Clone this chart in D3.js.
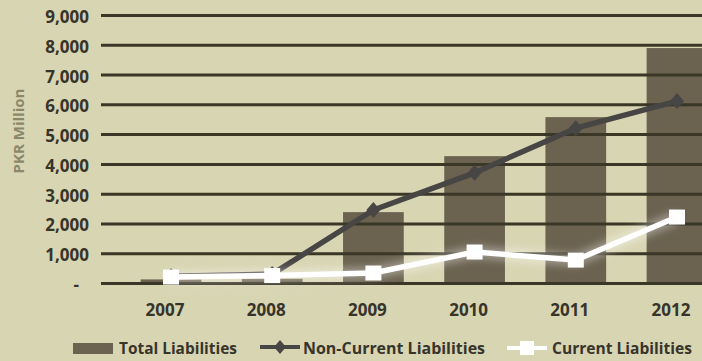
<!DOCTYPE html>
<html>
<head>
<meta charset="utf-8">
<script src="https://cdn.jsdelivr.net/npm/d3@7"></script>
<style>
  html, body { margin: 0; padding: 0; background: #d8d5b4; }
  svg { display: block; }
  text { font-family: "Open Sans", "DejaVu Sans", sans-serif; font-weight: 700; }
</style>
</head>
<body>
<svg id="chart" width="702" height="361"></svg>
<script>
// Liabilities by year, PKR million
const years = ["2007", "2008", "2009", "2010", "2011", "2012"];
const totalLiabilities = [120, 140, 2380, 4260, 5570, 7890];
const nonCurrentLiabilities = [230, 300, 2450, 3700, 5200, 6110];
const currentLiabilities = [200, 250, 335, 1040, 770, 2215];
const yTicks = [0, 1000, 2000, 3000, 4000, 5000, 6000, 7000, 8000, 9000];
const legendLabels = ["Total Liabilities", "Non-Current Liabilities", "Current Liabilities"];

const colors = {
  bg: "#d8d5b3",
  bar: "#6b6250",
  grid: "#3a3727",
  text: "#37342a",
  title: "#8b876b",
  nonCurrent: "#474644",
  current: "#ffffff"
};

const svg = d3.select("#chart");
svg.append("rect").attr("width", 702).attr("height", 361).attr("fill", colors.bg);

const defs = svg.append("defs");
defs.append("filter").attr("id", "haze").attr("x", "-20%").attr("y", "-50%")
  .attr("width", "140%").attr("height", "200%")
  .append("feGaussianBlur").attr("stdDeviation", 5);

const x = d3.scaleBand().domain(years).range([120.4, 727.6])
  .paddingInner(0.4).paddingOuter(0.2);
const y = d3.scaleLinear().domain([0, 9000]).range([283, 15]);
const cx = d => x(d) + x.bandwidth() / 2;

// Bars
svg.append("g").selectAll("rect").data(years).join("rect")
  .attr("x", d => x(d))
  .attr("width", x.bandwidth())
  .attr("y", (d, i) => y(totalLiabilities[i]))
  .attr("height", (d, i) => y(0) - y(totalLiabilities[i]))
  .attr("fill", colors.bar);

// Gridlines and value labels
const gridLeft = 101, gridRight = 728;
const yAxis = svg.append("g").attr("transform", `translate(${gridLeft},0)`)
  .call(d3.axisLeft(y).tickValues(yTicks).tickSize(-(gridRight - gridLeft)).tickPadding(12)
    .tickFormat(v => v === 0 ? "-" : d3.format(",")(v)));
yAxis.select(".domain").remove();
yAxis.selectAll(".tick line").attr("stroke", colors.grid).attr("stroke-width", 3);
yAxis.selectAll(".tick text")
  .attr("fill", colors.text).attr("font-size", 17)
  .attr("transform", "translate(0,2)")
  .attr("dx", v => v === 0 ? -10 : 0);

// Category labels
const xAxis = svg.append("g").attr("transform", `translate(0,${y(0)})`)
  .call(d3.axisBottom(x).tickSize(0).tickPadding(21));
xAxis.select(".domain").remove();
xAxis.selectAll(".tick text").attr("fill", colors.text).attr("font-size", 17).attr("dx", -6);

// Axis title
svg.append("text")
  .attr("transform", "translate(24,131) rotate(-90)")
  .attr("text-anchor", "middle")
  .attr("font-size", 15)
  .attr("fill", colors.title)
  .text("PKR Million");

// Lines
const line = d3.line().x(d => cx(d.year)).y(d => y(d.value));
const ncData = years.map((year, i) => ({ year, value: nonCurrentLiabilities[i] }));
const cData = years.map((year, i) => ({ year, value: currentLiabilities[i] }));

const diamond = (hw, hh) => `M0,${-hh}L${hw},0L0,${hh}L${-hw},0Z`;

svg.append("path").datum(ncData).attr("d", line)
  .attr("fill", "none").attr("stroke", colors.nonCurrent).attr("stroke-width", 5.5)
  .attr("stroke-linejoin", "round");
svg.append("g").selectAll("path").data(ncData).join("path")
  .attr("transform", d => `translate(${cx(d.year)},${y(d.value)})`)
  .attr("d", diamond(7, 8))
  .attr("fill", colors.nonCurrent);

// soft light haze under the white series
svg.append("path").datum(cData).attr("d", line)
  .attr("fill", "none").attr("stroke", "#ffffff").attr("stroke-width", 10)
  .attr("opacity", 0.45).attr("filter", "url(#haze)");
svg.append("path").datum(cData).attr("d", line)
  .attr("fill", "none").attr("stroke", colors.current).attr("stroke-width", 5.5)
  .attr("stroke-linejoin", "round");
svg.append("g").selectAll("rect").data(cData).join("rect")
  .attr("x", d => cx(d.year) - 8)
  .attr("y", d => y(d.value) - 7.5)
  .attr("width", 16).attr("height", 15)
  .attr("fill", colors.current);

// Legend
const lg = svg.append("g");
lg.append("rect").attr("x", 73).attr("y", 343).attr("width", 40).attr("height", 11).attr("fill", colors.bar);
lg.append("line").attr("x1", 260).attr("x2", 300).attr("y1", 347).attr("y2", 347)
  .attr("stroke", colors.nonCurrent).attr("stroke-width", 4);
lg.append("path").attr("transform", "translate(280,347)").attr("d", diamond(6, 7)).attr("fill", colors.nonCurrent);
lg.append("line").attr("x1", 507).attr("x2", 547).attr("y1", 348).attr("y2", 348)
  .attr("stroke", colors.current).attr("stroke-width", 4);
lg.append("rect").attr("x", 520).attr("y", 341).attr("width", 14).attr("height", 14).attr("fill", colors.current);

const legendText = [
  { x: 119, len: 118 },
  { x: 303, len: 182 },
  { x: 552, len: 140 }
];
lg.selectAll("text.lbl").data(legendLabels).join("text")
  .attr("class", "lbl")
  .attr("x", (d, i) => legendText[i].x)
  .attr("y", 354)
  .attr("font-size", 16)
  .attr("fill", colors.text)
  .attr("textLength", (d, i) => legendText[i].len)
  .attr("lengthAdjust", "spacingAndGlyphs")
  .text(d => d);
</script>
</body>
</html>
